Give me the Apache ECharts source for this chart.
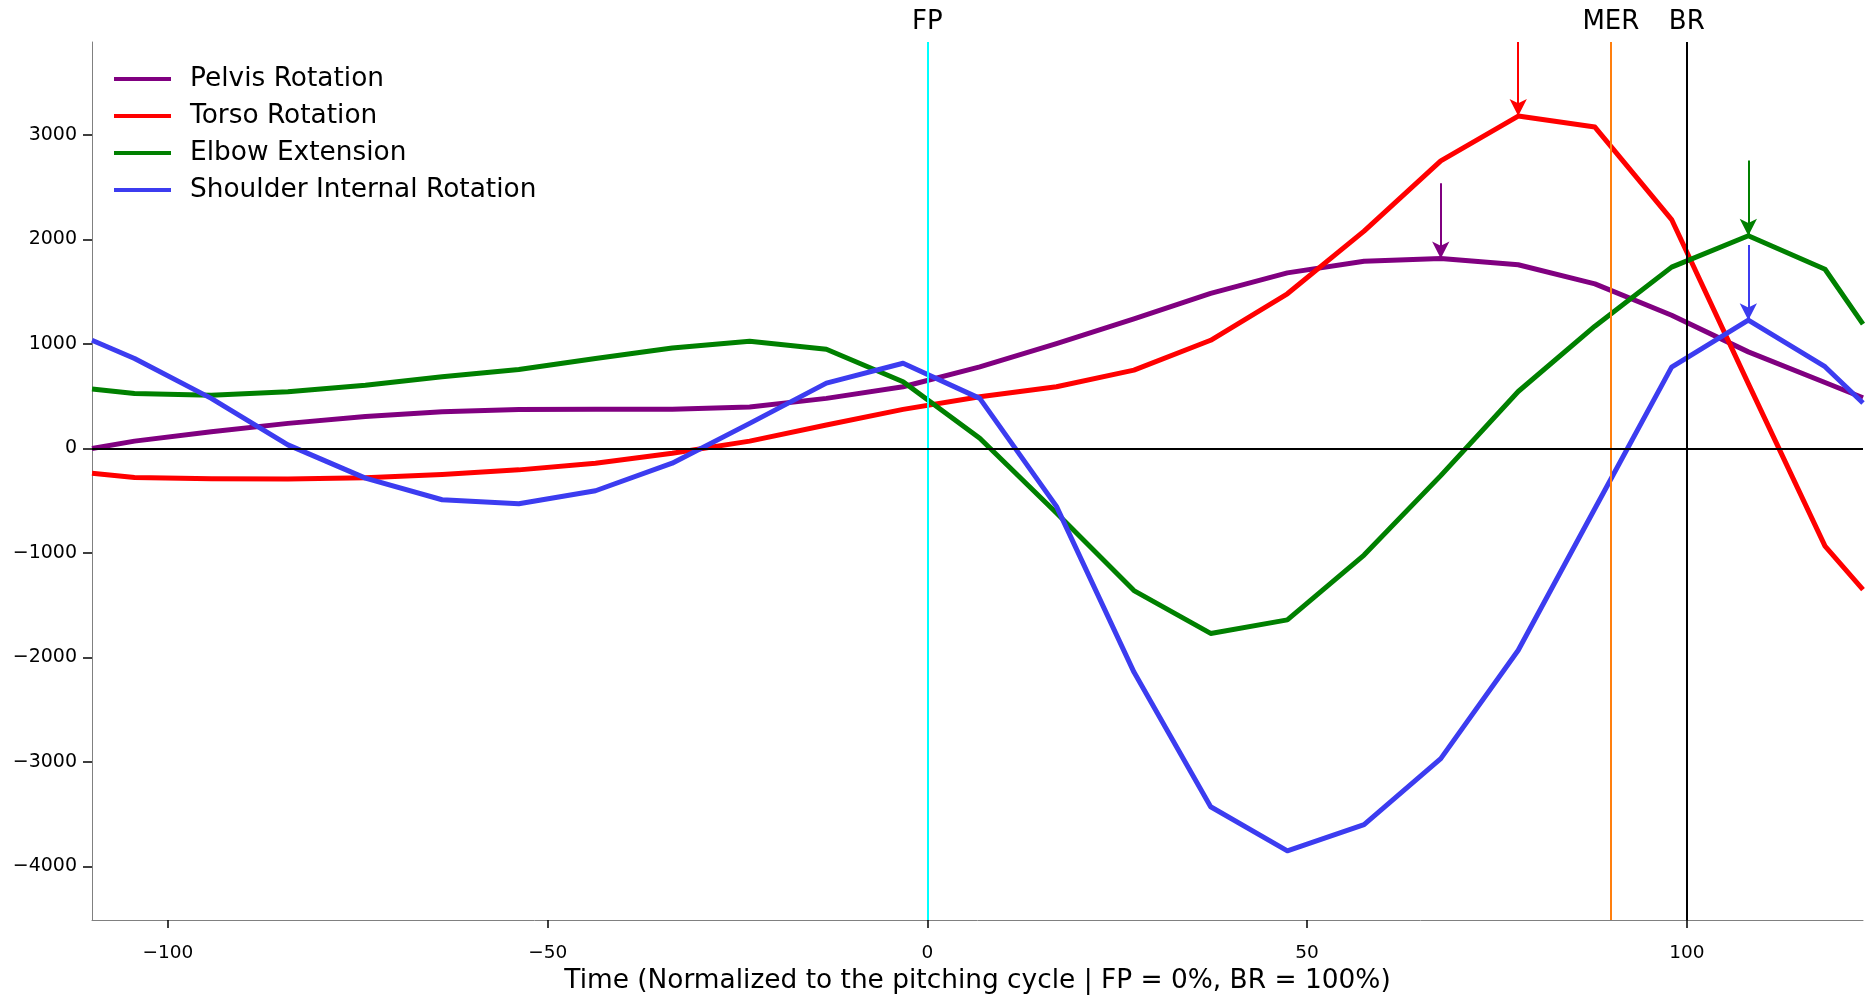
<!DOCTYPE html>
<html>
<head>
<meta charset="utf-8">
<script src="https://cdn.jsdelivr.net/npm/echarts@6/dist/echarts.min.js"></script>
<style>
html,body{margin:0;padding:0;background:#fff;}
#chart{width:1875px;height:999px;}
</style>
</head>
<body>
<div id="chart"></div>
<script>
// ---- data ----
const times = [-110, -104.4, -94.3, -84.2, -74.0, -63.9, -53.8, -43.7, -33.6, -23.4, -13.3, -3.2, 6.9, 17.0, 27.2, 37.3, 47.4, 57.5, 67.6, 77.8, 87.9, 98.0, 108.1, 118.2, 123.2];
const pelvisRotation   = [0, 70, 160, 240, 305, 350, 372, 375, 375, 397, 479, 590, 781, 1003, 1240, 1484, 1680, 1792, 1818, 1758, 1575, 1275, 924, 631, 485];
const torsoRotation    = [-237, -278, -290, -292, -280, -250, -205, -141, -46, 70, 224, 374, 495, 590, 749, 1035, 1480, 2080, 2751, 3180, 3075, 2190, 620, -935, -1350];
const elbowExtension   = [568, 526, 510, 542, 605, 685, 755, 860, 962, 1025, 949, 638, 97, -618, -1360, -1770, -1640, -1020, -260, 545, 1170, 1735, 2035, 1715, 1190];
const shoulderIR       = [1035, 860, 479, 34, -284, -491, -530, -405, -141, 240, 625, 815, 479, -554, -2140, -3428, -3850, -3600, -2968, -1931, -575, 778, 1227, 782, 435];
const seriesNames = ['Pelvis Rotation', 'Torso Rotation', 'Elbow Extension', 'Shoulder Internal Rotation'];
const eventNames = ['FP', 'MER', 'BR'];
const eventTimes = [0, 90, 100];
const xTicks = [-100, -50, 0, 50, 100];
const yTicks = [-4000, -3000, -2000, -1000, 0, 1000, 2000, 3000];
const xRange = [-110, 123.2];
const yRange = [-4512, 3889];
const arrowLength = 720;

// ---- styles ----
const seriesColors = ['#800080', '#ff0000', '#008000', '#3c3cf0'];
const eventColors = ['#00ffff', '#ff7f0e', '#000000'];
const FONT = 'DejaVu Sans';
const fmt = v => String(v).replace('-', '\u2212');

const allValues = [pelvisRotation, torsoRotation, elbowExtension, shoulderIR];

const series = allValues.map((vals, si) => {
  let mi = 0;
  vals.forEach((v, i) => { if (v > vals[mi]) mi = i; });
  const start = Math.min(vals[mi] + arrowLength, yRange[1] - 1);
  return {
    name: seriesNames[si],
    type: 'line',
    data: times.map((t, i) => [t, vals[i]]),
    showSymbol: false,
    symbol: 'none',
    clip: true,
    z: 3,
    color: seriesColors[si],
    lineStyle: { width: 5, color: seriesColors[si], join: 'round' },
    markLine: {
      silent: true,
      animation: false,
      symbol: ['none', 'arrow'],
      symbolSize: [13, 17],
      label: { show: false },
      lineStyle: { color: seriesColors[si], width: 2, type: 'solid' },
      data: [[{ coord: [times[mi], start] }, { coord: [times[mi], vals[mi]] }]]
    }
  };
});

// reference lines series
series.push({
  name: 'refs',
  type: 'line',
  data: [],
  z: 2,
  markLine: {
    silent: true,
    animation: false,
    symbol: ['none', 'none'],
    label: { show: true, position: 'end', distance: 7, formatter: p => p.name,
             fontFamily: FONT, fontSize: 26, color: '#000' },
    data: eventTimes.map((t, i) => ({
      name: eventNames[i],
      xAxis: t,
      lineStyle: { color: eventColors[i], width: 2, type: 'solid' }
    })).concat([{
      name: '',
      yAxis: 0,
      lineStyle: { color: '#000', width: 2, type: 'solid' },
      label: { show: false }
    }])
  }
});

const chart = echarts.init(document.getElementById('chart'), null, { renderer: 'canvas' });
chart.setOption({
  animation: false,
  backgroundColor: '#fff',
  grid: { left: 92, right: 12, top: 42, bottom: 72, containLabel: false },
  legend: {
    data: seriesNames,
    orient: 'vertical',
    left: 114,
    top: 64,
    padding: 0,
    icon: 'rect',
    itemWidth: 57,
    itemHeight: 4,
    itemGap: 7,
    textStyle: { fontFamily: FONT, fontSize: 26.4, color: '#000', lineHeight: 30, padding: [0, 0, 0, 14] }
  },
  xAxis: {
    type: 'value',
    min: xRange[0], max: xRange[1],
    name: 'Time (Normalized to the pitching cycle | FP = 0%, BR = 100%)',
    nameLocation: 'middle',
    nameGap: 48,
    nameTextStyle: { fontFamily: FONT, fontSize: 26.4, color: '#000' },
    axisLine: { onZero: false, lineStyle: { color: '#808080', width: 1 } },
    axisTick: { show: true, customValues: xTicks, length: 8, lineStyle: { color: '#000', width: 1.5 } },
    axisLabel: { customValues: xTicks, formatter: fmt, margin: 24, fontFamily: FONT, fontSize: 18.5, color: '#000' },
    splitLine: { show: false }
  },
  yAxis: {
    type: 'value',
    min: yRange[0], max: yRange[1],
    axisLine: { show: true, onZero: false, lineStyle: { color: '#808080', width: 1 } },
    axisTick: { show: true, customValues: yTicks, length: 9, lineStyle: { color: '#000', width: 1.5 } },
    axisLabel: { customValues: yTicks, formatter: fmt, margin: 15, fontFamily: FONT, fontSize: 19, color: '#000' },
    splitLine: { show: false }
  },
  series: series
});
</script>
</body>
</html>
